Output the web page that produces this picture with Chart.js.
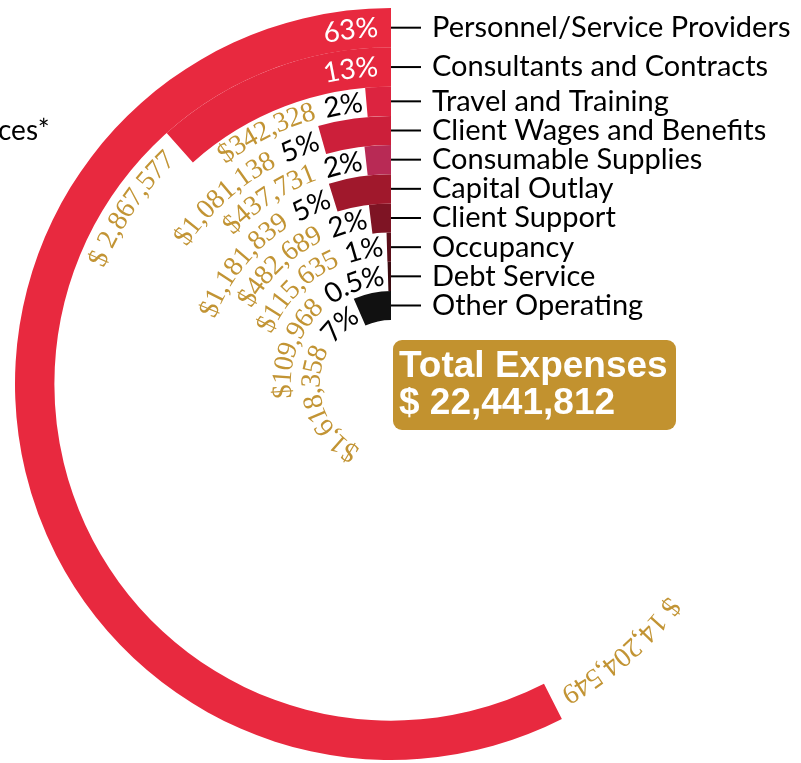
<!DOCTYPE html>
<html>
<head>
<meta charset="utf-8">
<script src="https://cdn.jsdelivr.net/npm/chart.js@4"></script>
<style>
  html, body { margin: 0; padding: 0; background: #fff; overflow: hidden; }
  #wrap { width: 801px; height: 763px; position: relative; }
</style>
</head>
<body>
<div id="wrap"><canvas id="chart" width="801" height="763"></canvas></div>
<script>
const categories = ['Personnel/Service Providers', 'Consultants and Contracts', 'Travel and Training',
  'Client Wages and Benefits', 'Consumable Supplies', 'Capital Outlay', 'Client Support',
  'Occupancy', 'Debt Service', 'Other Operating'];
const amounts = [14204549, 2867577, 342328, 1081138, 437731, 1181839, 482689, 115635, 109968, 1618358];
const percentLabels = ['63%', '13%', '2%', '5%', '2%', '5%', '2%', '1%', '0.5%', '7%'];
const amountLabels = ['$ 14,204,549', '$ 2,867,577', '$342,328', '$1,081,138', '$437,731',
  '$1,181,839', '$482,689', '$115,635', '$109,968', '$1,618,358'];
const totalTitle = 'Total Expenses';
const totalLabel = '$ 22,441,812';
// dollars that one full turn of a ring stands for
const fullTurn = 24700000;

const ringColors = ['#e8293f', '#e5273e', '#dc2440', '#cc1f3a', '#b82a55',
  '#a0182c', '#7e1424', '#5c0f1a', '#3a0a10', '#111111'];

// writes text along a circle, reading clockwise, tops outward, ending at endAng
function drawOnRing(ctx, text, cx, cy, r, endAng) {
  const total = ctx.measureText(text).width;
  let ang = endAng - total / r;
  for (const ch of text) {
    const w = ctx.measureText(ch).width;
    const a = ang + (w / 2) / r;
    ctx.save();
    ctx.translate(cx + r * Math.cos(a), cy + r * Math.sin(a));
    ctx.rotate(a + Math.PI / 2);
    ctx.fillText(ch, 0, 0);
    ctx.restore();
    ang += w / r;
  }
  return endAng - total / r;
}

const ringLabels = {
  id: 'ringLabels',
  afterDatasetsDraw(chart) {
    const ctx = chart.ctx;
    ctx.save();
    ctx.textAlign = 'center';
    ctx.textBaseline = 'middle';
    let cx = 0, cy = 0;
    categories.forEach((name, i) => {
      const arc = chart.getDatasetMeta(i).data[1];
      const p = arc.getProps(['x', 'y', 'startAngle', 'innerRadius', 'outerRadius'], true);
      cx = p.x; cy = p.y;
      const r = (p.innerRadius + p.outerRadius) / 2;
      let dollarEnd;
      ctx.font = '28px Lato';
      if (i < 2) {
        ctx.fillStyle = '#ffffff';
        drawOnRing(ctx, percentLabels[i], cx, cy, r, 1.5 * Math.PI - 13 / r);
        dollarEnd = p.startAngle - 12 / r;
      } else {
        ctx.fillStyle = '#000000';
        const pctStart = drawOnRing(ctx, percentLabels[i], cx, cy, r, p.startAngle - 4 / r);
        dollarEnd = pctStart - 10 / r;
      }
      ctx.font = '28px "Liberation Serif"';
      ctx.fillStyle = '#c29434';
      drawOnRing(ctx, amountLabels[i], cx, cy, r, dollarEnd);

      // legend entry with leader line
      const y = cy - r;
      ctx.strokeStyle = '#000';
      ctx.lineWidth = 2;
      ctx.beginPath();
      ctx.moveTo(cx, y);
      ctx.lineTo(cx + 30, y);
      ctx.stroke();
      ctx.fillStyle = '#000';
      ctx.font = '29px Lato';
      ctx.textAlign = 'left';
      ctx.fillText(name, 432, y);
      ctx.textAlign = 'center';
    });

    // total box
    ctx.fillStyle = '#c2922f';
    ctx.beginPath();
    ctx.roundRect(393, 340, 283, 90, 9);
    ctx.fill();
    ctx.fillStyle = '#ffffff';
    ctx.textAlign = 'left';
    ctx.textBaseline = 'alphabetic';
    ctx.font = 'bold 37px "Liberation Sans"';
    ctx.fillText(totalTitle, 399, 377);
    ctx.fillText(totalLabel, 399, 414);

    // cut-off heading at the left edge
    ctx.fillStyle = '#000';
    ctx.font = '28px Lato';
    ctx.fillText('ces*', -2, 140);
    ctx.restore();
  }
};

new Chart(document.getElementById('chart').getContext('2d'), {
  type: 'doughnut',
  data: {
    labels: ['rest', 'amount'],
    datasets: amounts.map((v, i) => ({
      label: categories[i],
      data: [fullTurn - v, v],
      backgroundColor: ['rgba(0,0,0,0)', ringColors[i]],
      borderWidth: 0,
      hoverBorderWidth: 0,
      hoverOffset: 0,
      offset: 0,
      weight: i < 2 ? 1.35 : 1
    }))
  },
  options: {
    responsive: false,
    animation: false,
    events: [],
    cutout: '17%',
    layout: { padding: { left: 15, top: 8, right: 34, bottom: 3 } },
    plugins: { legend: { display: false }, tooltip: { enabled: false } }
  },
  plugins: [ringLabels]
});
</script>
</body>
</html>
